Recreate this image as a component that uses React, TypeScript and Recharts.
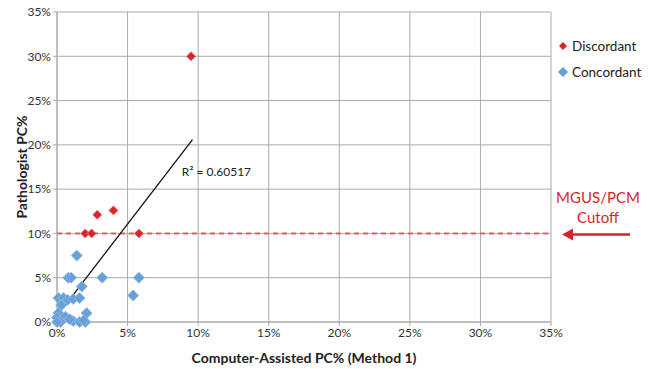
import React from "react";
import {
  ScatterChart,
  Scatter,
  XAxis,
  YAxis,
  CartesianGrid,
  ReferenceLine,
  ReferenceDot,
} from "recharts";

const TICKS = [0, 5, 10, 15, 20, 25, 30, 35];

const discordantX = [9.5, 2.0, 2.45, 5.8, 2.85, 4.0];
const discordantY = [30, 10, 10, 10, 12.1, 12.6];

const concordantX = [1.4, 0.8, 1.0, 3.2, 5.8, 5.4, 1.75, 0.1, 0.45, 0.75, 1.15, 1.6, 0.3, 0.1, 0.0, 0.6, 0.25, 1.15, 1.6, 2.0, 2.1, 0.0, 0.9, 1.9];
const concordantY = [7.5, 5, 5, 5, 5, 3.0, 4.0, 2.7, 2.7, 2.5, 2.6, 2.7, 1.9, 1.0, 0.5, 0.6, 0.0, 0.1, 0.0, 0.0, 1.0, 0.0, 0.3, 0.2];

const trendX = [0.1, 9.6];
const trendY = [0.9, 20.6];

const CUTOFF = 10;
const R2_LABEL = "R² = 0.60517";
const SERIES = ["Discordant", "Concordant"];

const RED = "#d8232a";
const BLUE = "#6a9fd8";
const FONT = "Lato, 'Open Sans', sans-serif";

const discordant = discordantX.map((x, i) => ({ x, y: discordantY[i] }));
const concordant = concordantX.map((x, i) => ({ x, y: concordantY[i] }));

const Diamond = (r: number, fill: string, stroke: string) => (props: any) => {
  const { cx, cy } = props;
  if (cx == null || cy == null) return null;
  return (
    <polygon
      points={`${cx},${cy - r} ${cx + r},${cy} ${cx},${cy + r} ${cx - r},${cy}`}
      fill={fill}
      stroke={stroke}
      strokeWidth={1}
    />
  );
};

const CutoffLabel = (props: any) => {
  const { viewBox } = props;
  if (!viewBox) return null;
  const right = viewBox.x + viewBox.width;
  const y = viewBox.y;
  const cx = right + 47;
  return (
    <g>
      <text x={cx} y={y - 30} textAnchor="middle" fill={RED} fontSize={15} fontFamily={FONT}>
        MGUS/PCM
      </text>
      <text x={cx} y={y - 10} textAnchor="middle" fill={RED} fontSize={15} fontFamily={FONT}>
        Cutoff
      </text>
      <line x1={right + 79} y1={y + 1} x2={right + 20} y2={y + 1} stroke={RED} strokeWidth={2.5} />
      <polygon
        points={`${right + 11},${y + 1} ${right + 22},${y - 5} ${right + 22},${y + 7}`}
        fill={RED}
      />
    </g>
  );
};

const colorOf = [RED, BLUE];
const sizeOf = [4, 5];

export default function App() {
  return (
    <div style={{ position: "absolute", left: 0, top: 0, width: 649, height: 369, background: "#fff" }}>
      <ScatterChart
        width={649}
        height={369}
        margin={{ top: 12, right: 98, bottom: 0, left: 0 }}
      >
        <CartesianGrid stroke="#aaaaaa" strokeWidth={1} />
        <XAxis
          type="number"
          dataKey="x"
          domain={[0, 35]}
          ticks={TICKS}
          tickFormatter={(v) => `${v}%`}
          stroke="#aaaaaa"
          tick={{ fill: "#333", fontSize: 12, fontFamily: FONT }}
          tickSize={4}
          height={47}
          label={{
            value: "Computer-Assisted PC% (Method 1)",
            position: "insideBottom",
            offset: 6,
            style: { fontFamily: FONT, fontSize: 14, fontWeight: "bold", fill: "#222" },
          }}
        />
        <YAxis
          type="number"
          dataKey="y"
          domain={[0, 35]}
          ticks={TICKS}
          tickFormatter={(v) => `${v}%`}
          stroke="#aaaaaa"
          tick={{ fill: "#333", fontSize: 12, fontFamily: FONT }}
          tickSize={4}
          width={57}
          label={{
            value: "Pathologist PC%",
            angle: -90,
            position: "insideLeft",
            offset: 22,
            style: {
              fontFamily: FONT,
              fontSize: 14,
              fontWeight: "bold",
              fill: "#222",
              textAnchor: "middle",
            },
          }}
        />
        <ReferenceLine
          y={CUTOFF}
          stroke="#e06060"
          strokeWidth={2}
          strokeDasharray="5 4"
          ifOverflow="visible"
          label={<CutoffLabel />}
        />
        <ReferenceLine
          segment={[
            { x: trendX[0], y: trendY[0] },
            { x: trendX[1], y: trendY[1] },
          ]}
          stroke="#111"
          strokeWidth={1.3}
        />
        <ReferenceDot
          x={11.3}
          y={17}
          r={0}
          stroke="none"
          label={{
            value: R2_LABEL,
            position: "center",
            style: { fontFamily: FONT, fontSize: 12, fill: "#222" },
          }}
        />
        <Scatter
          name="Concordant"
          data={concordant}
          shape={Diamond(5.5, BLUE, "#8fb8e6")}
          isAnimationActive={false}
        />
        <Scatter
          name="Discordant"
          data={discordant}
          shape={Diamond(4.5, RED, "#e8707a")}
          isAnimationActive={false}
        />
      </ScatterChart>
      <div
        style={{
          position: "absolute",
          left: 557,
          top: 33,
          fontFamily: FONT,
          fontSize: 13.5,
          color: "#222",
        }}
      >
        {SERIES.map((name, i) => (
          <div key={name} style={{ display: "flex", alignItems: "center", height: 26 }}>
            <svg width={12} height={12} style={{ marginRight: 3 }}>
              <polygon
                points={`6,${6 - sizeOf[i]} ${6 + sizeOf[i]},6 6,${6 + sizeOf[i]} ${6 - sizeOf[i]},6`}
                fill={colorOf[i]}
              />
            </svg>
            {name}
          </div>
        ))}
      </div>
    </div>
  );
}
